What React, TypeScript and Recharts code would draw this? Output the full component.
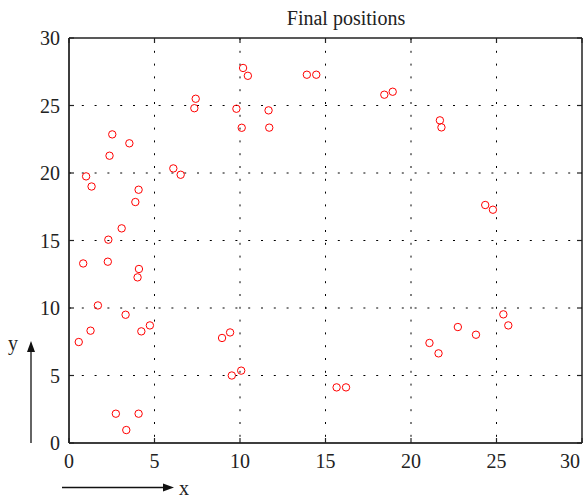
import { ScatterChart, Scatter, XAxis, YAxis, CartesianGrid } from "recharts";

// final positions
const xs = [
  10.18, 10.46, 7.41, 7.33, 9.79, 10.1, 2.53, 3.53, 2.37, 6.1, 6.53, 1.0, 1.32,
  4.07, 3.88, 3.08, 13.91, 14.46, 18.44, 18.93, 11.67, 11.71, 21.69, 21.78,
  24.34, 24.79, 2.3, 0.83, 2.27, 4.09, 4.01, 1.69, 3.31, 4.73, 4.23, 1.26, 0.57,
  8.95, 9.42, 9.52, 10.07, 2.74, 4.07, 3.35, 15.65, 16.2, 21.08, 21.61, 22.74,
  23.8, 25.4, 25.69,
];
const ys = [
  27.78, 27.2, 25.5, 24.8, 24.76, 23.35, 22.86, 22.2, 21.28, 20.34, 19.87,
  19.75, 19.0, 18.76, 17.85, 15.9, 27.28, 27.28, 25.8, 26.02, 24.64, 23.36,
  23.9, 23.38, 17.63, 17.28, 15.06, 13.3, 13.43, 12.89, 12.27, 10.19, 9.5,
  8.71, 8.27, 8.32, 7.48, 7.78, 8.19, 5.0, 5.36, 2.17, 2.17, 0.96, 4.12, 4.12,
  7.41, 6.64, 8.59, 8.02, 9.53, 8.71,
];
const TICKS = [0, 5, 10, 15, 20, 25, 30];

const points = xs.map((x, i) => ({ x, y: ys[i] }));

const W = 583;
const H = 500;
const MARGIN = { top: 38, right: 1, bottom: 0, left: 0 };
const Y_AXIS_W = 69;
const X_AXIS_H = 57;
const PLOT_L = MARGIN.left + Y_AXIS_W;
const PLOT_T = MARGIN.top;
const PLOT_W = W - MARGIN.right - PLOT_L;
const PLOT_H = H - PLOT_T - X_AXIS_H;
const MAX = TICKS[TICKS.length - 1];

const FONT = "'Liberation Serif', 'DejaVu Serif', serif";
const AXIS = "#222";
const TICK_LEN = 5;

function BottomTick({ x, y, payload }: any) {
  // the last label is pulled inside the picture, as in the original export
  const last = payload.value === MAX;
  return (
    <text
      x={last ? x - 2 : x}
      y={y + 25}
      textAnchor={last ? "end" : "middle"}
      fontSize={20}
      fontFamily={FONT}
      fill="#222"
    >
      {payload.value}
    </text>
  );
}

function LeftTick({ x, y, payload }: any) {
  return (
    <text x={x - 9} y={y + 7} textAnchor="end" fontSize={20} fontFamily={FONT} fill="#222">
      {payload.value}
    </text>
  );
}

const ringShape = (props: any) => (
  <circle cx={props.cx} cy={props.cy} r={3.7} fill="none" stroke="#f00" strokeWidth={1} />
);

// box frame with inward ticks (MATLAB style), laid over the chart
function Frame() {
  const px = (v: number) => PLOT_L + (v / MAX) * PLOT_W;
  const py = (v: number) => PLOT_T + PLOT_H - (v / MAX) * PLOT_H;
  const bottom = PLOT_T + PLOT_H;
  const right = PLOT_L + PLOT_W;
  return (
    <g>
      <line x1={PLOT_L} y1={PLOT_T} x2={right} y2={PLOT_T} stroke={AXIS} strokeWidth={1.5} />
      <line x1={right} y1={PLOT_T} x2={right} y2={bottom} stroke={AXIS} strokeWidth={1.5} />
      <line x1={PLOT_L} y1={bottom} x2={right} y2={bottom} stroke={AXIS} strokeWidth={1.5} />
      <line x1={PLOT_L} y1={PLOT_T} x2={PLOT_L} y2={bottom} stroke={AXIS} strokeWidth={1.5} />
      {TICKS.map((t) => (
        <g key={t}>
          <line x1={px(t)} y1={bottom} x2={px(t)} y2={bottom - TICK_LEN} stroke={AXIS} strokeWidth={1.2} />
          <line x1={px(t)} y1={PLOT_T} x2={px(t)} y2={PLOT_T + TICK_LEN} stroke={AXIS} strokeWidth={1.2} />
          <line x1={PLOT_L} y1={py(t)} x2={PLOT_L + TICK_LEN} y2={py(t)} stroke={AXIS} strokeWidth={1.2} />
          <line x1={right} y1={py(t)} x2={right - TICK_LEN} y2={py(t)} stroke={AXIS} strokeWidth={1.2} />
        </g>
      ))}
    </g>
  );
}

export default function App() {
  return (
    <div style={{ position: "absolute", left: 0, top: 0, width: W, height: H, background: "#fff" }}>
      <ScatterChart width={W} height={H} margin={MARGIN}>
        <CartesianGrid
          stroke="#000"
          strokeDasharray="2 10.8"
          horizontalValues={[5, 10, 15, 20, 25]}
          verticalValues={[5, 10, 15, 20, 25]}
        />
        <XAxis
          dataKey="x"
          type="number"
          domain={[0, MAX]}
          ticks={TICKS}
          height={X_AXIS_H}
          tickSize={0}
          tickMargin={0}
          tickLine={false}
          axisLine={{ stroke: AXIS }}
          tick={<BottomTick />}
          interval={0}
        />
        <YAxis
          dataKey="y"
          type="number"
          domain={[0, MAX]}
          ticks={TICKS}
          width={Y_AXIS_W}
          tickSize={0}
          tickMargin={0}
          tickLine={false}
          axisLine={{ stroke: AXIS }}
          tick={<LeftTick />}
          interval={0}
        />
        <Scatter data={points} shape={ringShape} isAnimationActive={false} />
      </ScatterChart>
      <svg
        width={W}
        height={H}
        style={{ position: "absolute", left: 0, top: 0, pointerEvents: "none" }}
      >
        <Frame />
        <text x={346} y={25} textAnchor="middle" fontSize={20} fontFamily={FONT} fill="#222">
          Final positions
        </text>
        {/* y direction arrow */}
        <line x1={31} y1={443} x2={31} y2={350} stroke="#111" strokeWidth={1.3} />
        <polygon points="31,341 27,352 35,352" fill="#111" />
        <text x={8} y={350} fontSize={20} fontFamily={FONT} fill="#222">y</text>
        {/* x direction arrow */}
        <line x1={62} y1={487.5} x2={165} y2={487.5} stroke="#111" strokeWidth={1.3} />
        <polygon points="174,487.5 163,483.5 163,491.5" fill="#111" />
        <text x={179} y={495} fontSize={20} fontFamily={FONT} fill="#222">x</text>
      </svg>
    </div>
  );
}
